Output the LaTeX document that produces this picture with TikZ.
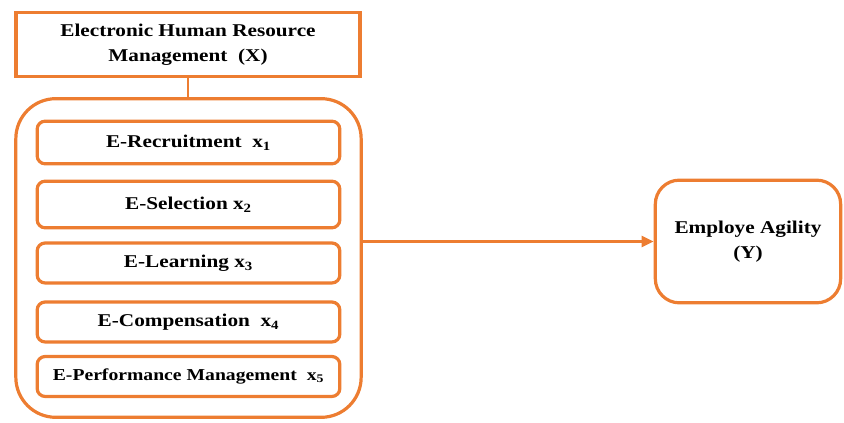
\documentclass[tikz,border=0pt]{standalone}
\usepackage{fontspec}
\setmainfont{Liberation Serif}[FakeStretch=1.18]
\usetikzlibrary{arrows.meta}
\definecolor{org}{RGB}{237,125,49}
\tikzset{
  box/.style={draw=org, line width=2.4pt, align=center, inner sep=0pt, font=\fontsize{13.5}{19}\selectfont\bfseries},
  sub/.style={box, rounded corners=6pt, minimum width=227pt, },
  conn/.style={draw=org, line width=2.2pt},
}
\begin{document}
\begin{tikzpicture}[x=0.75pt, y=-0.75pt]
\useasboundingbox (0,0) rectangle (844,423);
\node[box, minimum width=258pt, minimum height=48pt] (top) at (188,44.5) {Electronic Human Resource\\Management~~(X)};
\node[box, rounded corners=30pt, minimum width=259pt, minimum height=239pt] (outer) at (188.5,258) {};
\node[sub, minimum height=32pt] (s1) at (188.5,142.5) {E-Recruitment~~x\textsubscript{1}};
\node[sub, minimum height=35pt] (s2) at (188.5,204.5) {E-Selection x\textsubscript{2}};
\node[sub, minimum height=30pt] (s3) at (188.5,263) {E-Learning x\textsubscript{3}};
\node[sub, minimum height=30pt] (s4) at (188.5,322) {E-Compensation~~x\textsubscript{4}};
\node[sub, minimum height=30pt, font=\fontsize{12.5}{15}\selectfont\bfseries] (s5) at (188.5,376.5) {E-Performance Management~~x\textsubscript{5}};
\node[box, rounded corners=18pt, minimum width=139pt, minimum height=92pt] (y) at (748,241.5) {Employe Agility\\(Y)};
\draw[conn] (top.south) -- (top.south |- outer.north);
\draw[conn, -{Triangle[length=9pt,width=8pt]}] (y.west -| outer.east) -- (y.west);
\end{tikzpicture}
\end{document}
